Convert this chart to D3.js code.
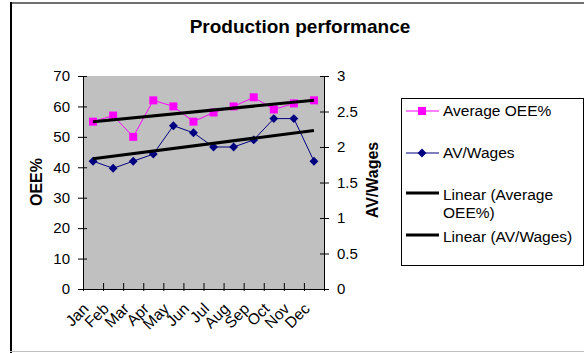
<!DOCTYPE html>
<html>
<head>
<meta charset="utf-8">
<script src="https://cdn.jsdelivr.net/npm/d3@7"></script>
<style>
  body { margin: 0; background: #fff; }
  text { font-family: "Liberation Sans", Arial, sans-serif; }
</style>
</head>
<body>
<svg id="chart" width="584" height="353"></svg>
<script>
// data
var months = ["Jan", "Feb", "Mar", "Apr", "May", "Jun", "Jul", "Aug", "Sep", "Oct", "Nov", "Dec"];
var oee = [55, 57, 50, 62, 60, 55, 58, 60, 63, 59, 61, 62];
var avWages = [1.8, 1.7, 1.8, 1.9, 2.3, 2.2, 2.0, 2.0, 2.1, 2.4, 2.4, 1.8];
var leftTicks = [0, 10, 20, 30, 40, 50, 60, 70];
var rightTicks = [0, 0.5, 1, 1.5, 2, 2.5, 3];
var legendLabels = ["Average OEE%", "AV/Wages", ["Linear (Average", "OEE%)"], "Linear (AV/Wages)"];

var svg = d3.select("#chart");
var plot = {left: 83, right: 324, top: 76, bottom: 289};

// chart frame
svg.append("line").attr("x1", 10).attr("x2", 584).attr("y1", 3).attr("y2", 3)
  .attr("stroke", "#707070").attr("stroke-width", 2);
svg.append("line").attr("x1", 11).attr("x2", 11).attr("y1", 2).attr("y2", 353)
  .attr("stroke", "#000").attr("stroke-width", 2);
svg.append("line").attr("x1", 10).attr("x2", 584).attr("y1", 351.5).attr("y2", 351.5)
  .attr("stroke", "#c0c0c0").attr("stroke-width", 1);

svg.append("text")
  .attr("x", 300).attr("y", 33)
  .attr("text-anchor", "middle")
  .attr("font-size", "19px").attr("font-weight", "bold")
  .text("Production performance");

var x = d3.scaleBand().domain(months).range([plot.left, plot.right]);
var xEdge = d3.scaleLinear().domain([0, months.length]).range([plot.left, plot.right]);
var yL = d3.scaleLinear().domain([0, 70]).range([plot.bottom, plot.top]);
var yR = d3.scaleLinear().domain([0, 3]).range([plot.bottom, plot.top]);

svg.append("rect")
  .attr("x", plot.left).attr("y", plot.top)
  .attr("width", plot.right - plot.left).attr("height", plot.bottom - plot.top)
  .attr("fill", "#c0c0c0");

// axes
var gL = svg.append("g").attr("transform", "translate(" + plot.left + ",0)")
  .call(d3.axisLeft(yL).tickValues(leftTicks).tickSizeInner(5).tickSizeOuter(0).tickPadding(8));
gL.selectAll(".tick line").attr("x1", 4);
var gR = svg.append("g").attr("transform", "translate(" + plot.right + ",0)")
  .call(d3.axisRight(yR).tickValues(rightTicks).tickFormat(d3.format("")).tickSizeInner(5).tickSizeOuter(0).tickPadding(8));
gR.selectAll(".tick line").attr("x1", -4);
var gB = svg.append("g").attr("transform", "translate(0," + plot.bottom + ")")
  .call(d3.axisBottom(xEdge).tickValues(d3.range(months.length + 1)).tickFormat("").tickSizeInner(2).tickSizeOuter(0));
gB.selectAll(".tick line").attr("y1", -6);

[gL, gR, gB].forEach(function(g) {
  g.selectAll("path, line").attr("stroke", "#000").attr("stroke-width", 1);
  g.selectAll("text").attr("font-size", "15px").attr("fill", "#000")
    .style("font-family", "'Liberation Sans', Arial, sans-serif");
});

// month labels, rotated
svg.append("g").selectAll("text")
  .data(months)
  .enter().append("text")
    .attr("transform", function(d) {
      return "translate(" + (x(d) + x.bandwidth() / 2 - 11) + ",302) rotate(-45)";
    })
    .attr("text-anchor", "end")
    .attr("dy", "0.7em")
    .attr("font-size", "15.5px")
    .text(function(d) { return d; });

// axis titles
svg.append("text")
  .attr("transform", "translate(42,182) rotate(-90)")
  .attr("text-anchor", "middle")
  .attr("font-size", "16px").attr("font-weight", "bold")
  .text("OEE%");
svg.append("text")
  .attr("transform", "translate(378,180) rotate(-90)")
  .attr("text-anchor", "middle")
  .attr("font-size", "16px").attr("font-weight", "bold")
  .text("AV/Wages");

// least squares trend
function trend(vals) {
  var n = vals.length, mx = (n - 1) / 2, my = d3.mean(vals), sxy = 0, sxx = 0;
  vals.forEach(function(v, i) { sxy += (i - mx) * (v - my); sxx += (i - mx) * (i - mx); });
  var b = sxy / sxx;
  return [my - b * mx, my + b * (n - 1 - mx)];
}
var cx = function(i) { return x(months[i]) + x.bandwidth() / 2; };

var oeeLine = d3.line().x(function(d, i) { return cx(i); }).y(function(d) { return yL(d); });
var avLine = d3.line().x(function(d, i) { return cx(i); }).y(function(d) { return yR(d); });

svg.append("path").datum(oee).attr("d", oeeLine)
  .attr("fill", "none").attr("stroke", "#ff00ff").attr("stroke-width", 1);
svg.append("path").datum(avWages).attr("d", avLine)
  .attr("fill", "none").attr("stroke", "#000080").attr("stroke-width", 1);

svg.selectAll(".sq").data(oee).enter().append("rect")
  .attr("x", function(d, i) { return cx(i) - 4; })
  .attr("y", function(d) { return yL(d) - 4; })
  .attr("width", 8).attr("height", 8)
  .attr("fill", "#ff00ff");
svg.selectAll(".dm").data(avWages).enter().append("path")
  .attr("d", d3.symbol(d3.symbolDiamond2, 50))
  .attr("transform", function(d, i) { return "translate(" + cx(i) + "," + yR(d) + ")"; })
  .attr("fill", "#000080");

var tO = trend(oee), tA = trend(avWages);
svg.append("line")
  .attr("x1", cx(0)).attr("x2", cx(months.length - 1))
  .attr("y1", yL(tO[0])).attr("y2", yL(tO[1]))
  .attr("stroke", "#000").attr("stroke-width", 3);
svg.append("line")
  .attr("x1", cx(0)).attr("x2", cx(months.length - 1))
  .attr("y1", yR(tA[0])).attr("y2", yR(tA[1]))
  .attr("stroke", "#000").attr("stroke-width", 3);

// legend
var legend = svg.append("g");
legend.append("rect")
  .attr("x", 401.5).attr("y", 98.5).attr("width", 182).attr("height", 167)
  .attr("fill", "#fff").attr("stroke", "#000").attr("stroke-width", 1);
var rowY = [111, 153, 195, 237];
var lx1 = 406, lx2 = 439, lmid = 422;

legend.append("line").attr("x1", lx1).attr("x2", lx2).attr("y1", rowY[0]).attr("y2", rowY[0])
  .attr("stroke", "#ff00ff").attr("stroke-width", 1);
legend.append("rect").attr("x", lmid - 4).attr("y", rowY[0] - 4).attr("width", 8).attr("height", 8)
  .attr("fill", "#ff00ff");
legend.append("line").attr("x1", lx1).attr("x2", lx2).attr("y1", rowY[1]).attr("y2", rowY[1])
  .attr("stroke", "#000080").attr("stroke-width", 1);
legend.append("path").attr("d", d3.symbol(d3.symbolDiamond2, 50))
  .attr("transform", "translate(" + lmid + "," + rowY[1] + ")").attr("fill", "#000080");
[2, 3].forEach(function(k) {
  legend.append("line").attr("x1", lx1).attr("x2", lx2).attr("y1", rowY[k] - 2).attr("y2", rowY[k] - 2)
    .attr("stroke", "#000").attr("stroke-width", 3);
});

legendLabels.forEach(function(lab, k) {
  var t = legend.append("text").attr("x", 443).attr("y", rowY[k]).attr("dy", "0.35em")
    .attr("font-size", "15.5px");
  if (Array.isArray(lab)) {
    lab.forEach(function(s, j) {
      t.append("tspan").attr("x", 443).attr("dy", j === 0 ? "0.35em" : "1.15em").text(s);
    });
    t.attr("dy", null);
  } else {
    t.text(lab);
  }
});
</script>
</body>
</html>
